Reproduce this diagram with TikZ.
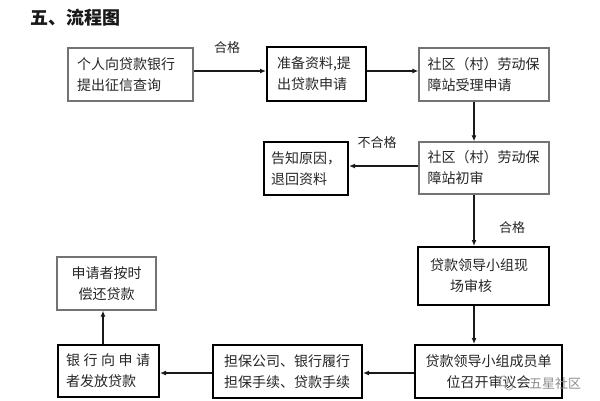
\documentclass[tikz,border=0pt]{standalone}
\usepackage{fontspec}
\setmainfont{Noto Sans CJK SC}
\usetikzlibrary{arrows.meta}
\begin{document}
\begin{tikzpicture}[x=1pt,y=-1pt,
  base/.style={rectangle, font=\fontsize{14}{21}\selectfont, text=black!85, inner sep=0pt},
  thinbox/.style={base, draw=black!55, line width=1.3pt},
  thickbox/.style={base, draw=black, line width=2pt},
  arr/.style={-{Latex[length=6pt,width=5pt]}, line width=1.5pt, draw=black!90},
  lbl/.style={font=\fontsize{13}{15}\selectfont, text=black!85}]
\useasboundingbox[fill=white] (0,0) rectangle (600,400);
\node[font=\fontsize{18}{20}\selectfont\bfseries, anchor=west, text=black!90] (title) at (27,18) {五、流程图};

\node[thinbox, minimum width=125pt, minimum height=53pt, text width=107pt, align=left] (b1) at (130.5,74.5) {个人向贷款银行\\提出征信查询};
\node[thickbox, minimum width=99pt, minimum height=54pt, text width=79pt, align=left] (b2) at (316.5,74) {准备资料,提\\出贷款申请};
\node[thinbox, minimum width=130pt, minimum height=53pt, text width=113pt, align=left] (b3) at (484,74.5) {社区（村）劳动保\\障站受理申请};
\node[thinbox, minimum width=130pt, minimum height=52pt, text width=113pt, align=left] (b4) at (484,168) {社区（村）劳动保\\障站初审};
\node[thickbox, minimum width=84pt, minimum height=53pt, text width=70pt, align=left] (b5) at (306,168.5) {告知原因，\\退回资料};
\node[thickbox, minimum width=131pt, minimum height=58pt, text width=107pt, align=left] (b6) at (483.5,276) {贷款领导小组现\\\hspace*{20pt}场审核};
\node[thickbox, minimum width=147pt, minimum height=53pt, text width=130pt, align=center] (b7) at (488.5,371.5) {贷款领导小组成员单\\位召开审议会};
\node[thickbox, minimum width=149pt, minimum height=53pt, text width=127pt, align=left] (b8) at (287.5,371.5) {担保公司、银行履行\\担保手续、贷款手续};
\node[thinbox, minimum width=99pt, minimum height=53pt, text width=85pt, align=center] (b9) at (106.5,283.5) {申请者按时\\偿还贷款};
\node[thickbox, minimum width=101pt, minimum height=52pt, text width=85pt, align=left] (b10) at (108.5,371) {银\hspace{3.5pt}行\hspace{3.5pt}向\hspace{3.5pt}申\hspace{3.5pt}请\\者发放贷款};

\coordinate (v) at (474,0);
\coordinate (v2) at (103,0);
\coordinate (h1) at (0,71);
\coordinate (h2) at (0,166);
\coordinate (h3) at (0,373);

\draw[arr] (b1.east |- h1) -- (b2.west |- h1);
\draw[arr] (b2.east |- h1) -- (b3.west |- h1);
\draw[arr] (b3.south -| v) -- (b4.north -| v);
\draw[arr] (b4.west |- h2) -- (b5.east |- h2);
\draw[arr] (b4.south -| v) -- (b6.north -| v);
\draw[arr] (b6.south -| v) -- (b7.north -| v);
\draw[arr] (b7.west |- h3) -- (b8.east |- h3);
\draw[arr] (b8.west |- h3) -- (b10.east |- h3);
\draw[arr] (b10.north -| v2) -- (b9.south -| v2);

\node[lbl] (l1) at (227,48) {合格};
\node[lbl] (l2) at (377,143) {不合格};
\node[lbl] (l3) at (512,228) {合格};

\draw[black!35, line width=0.8pt] (503,381) circle (5pt);
\draw[black!35, line width=0.8pt] (509,386) circle (4pt);
\node[font=\fontsize{13}{15}\selectfont, text=black!45] (wm) at (555,384) {五星社区};
\end{tikzpicture}
\end{document}
